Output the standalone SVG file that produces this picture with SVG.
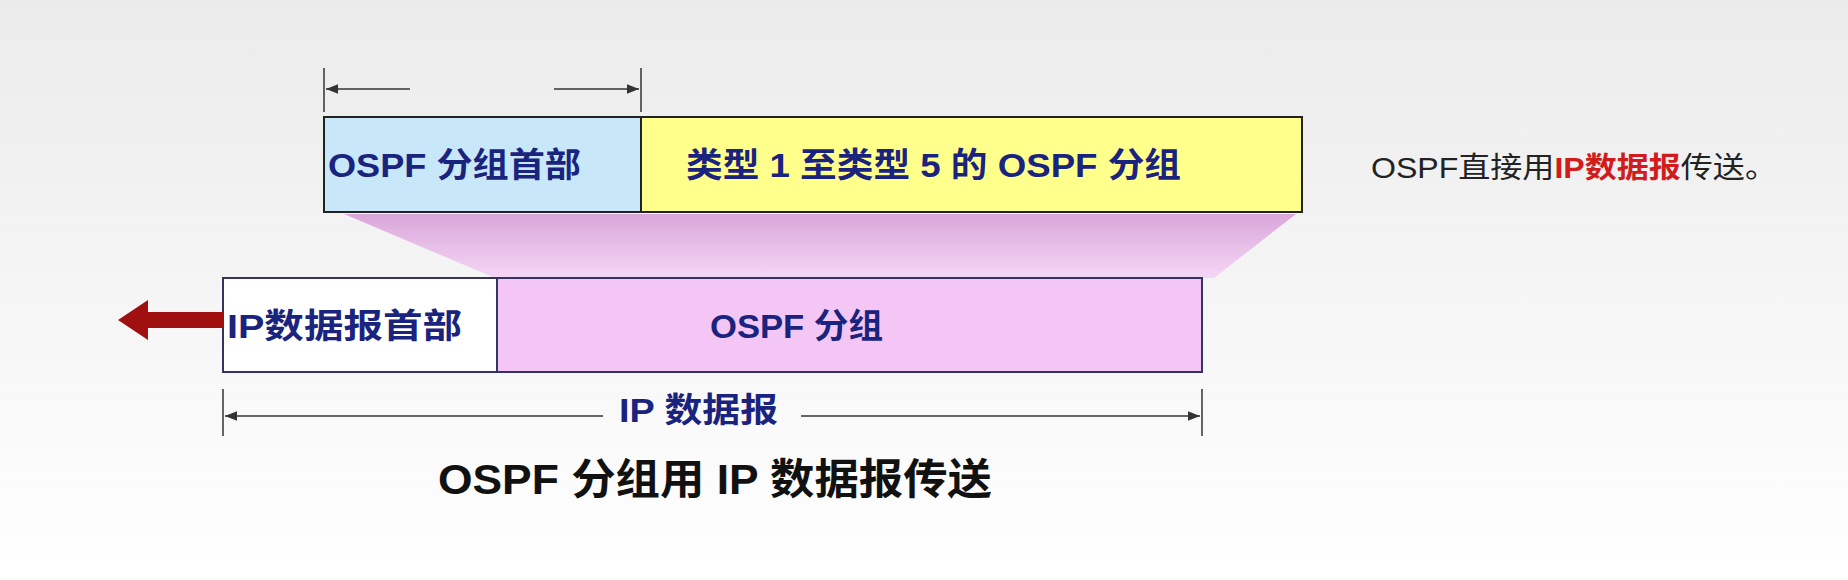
<svg xmlns="http://www.w3.org/2000/svg" width="1848" height="580" viewBox="0 0 1848 580">
<defs>
<style>
.t{font-family:"Liberation Sans","Noto Sans CJK SC",sans-serif;font-weight:bold;fill:#1a237e;font-size:34px}
.dim{stroke:#333;stroke-width:1.5;fill:none}
</style>
<marker id="ah" viewBox="0 0 10 10" refX="10" refY="5" markerWidth="8" markerHeight="8" orient="auto-start-reverse"><path d="M0,1L10,5L0,9z" fill="#333"/></marker>
<linearGradient id="bg" x1="0" y1="0" x2="0" y2="1"><stop offset="0" stop-color="#ebebeb"/><stop offset="1" stop-color="#ffffff"/></linearGradient>
<linearGradient id="tz" x1="0" y1="0" x2="0" y2="1"><stop offset="0" stop-color="#d9a7d9"/><stop offset="1" stop-color="#f5d6f5"/></linearGradient>
</defs>
<rect width="1848" height="580" fill="url(#bg)"/>
<g id="trapezoid"><polygon points="344,214 1296,214 1214,278 495,278" fill="url(#tz)"/></g>
<g id="ospf-header"><rect x="324" y="117" width="317" height="95" fill="#c8e8fa" stroke="#222" stroke-width="2"/><text class="t" x="328" y="177" textLength="253" lengthAdjust="spacingAndGlyphs">OSPF 分组首部</text></g>
<g id="ospf-body"><rect x="641" y="117" width="661" height="95" fill="#ffff8c" stroke="#222" stroke-width="2"/><text class="t" x="686" y="177" textLength="495" lengthAdjust="spacingAndGlyphs">类型 1 至类型 5 的 OSPF 分组</text></g>
<g id="ip-header"><rect x="223" y="278" width="274" height="94" fill="#fff" stroke="#333366" stroke-width="2"/><text class="t" x="227" y="338" textLength="235" lengthAdjust="spacingAndGlyphs">IP数据报首部</text></g>
<g id="ip-body"><rect x="497" y="278" width="705" height="94" fill="#f3c6f5" stroke="#333366" stroke-width="2"/><text class="t" x="710" y="338" textLength="173" lengthAdjust="spacingAndGlyphs">OSPF 分组</text></g>
<g id="connectors">
<line class="dim" x1="324" y1="68" x2="324" y2="112"/><line class="dim" x1="641" y1="68" x2="641" y2="112"/>
<line class="dim" x1="410" y1="89" x2="326" y2="89" marker-end="url(#ah)"/>
<line class="dim" x1="554" y1="89" x2="639" y2="89" marker-end="url(#ah)"/>
<line class="dim" x1="223" y1="389" x2="223" y2="436"/><line class="dim" x1="1202" y1="389" x2="1202" y2="436"/>
<line class="dim" x1="603" y1="416" x2="225" y2="416" marker-end="url(#ah)"/>
<line class="dim" x1="801" y1="416" x2="1200" y2="416" marker-end="url(#ah)"/>
<polygon points="118,320 148,300 148,312 223,312 223,328 148,328 148,340" fill="#a01010"/>
</g>
<text class="t" x="619" y="422" textLength="159" lengthAdjust="spacingAndGlyphs">IP 数据报</text>
<text x="438" y="494" textLength="554" lengthAdjust="spacingAndGlyphs" style="font-family:'Liberation Sans','Noto Sans CJK SC',sans-serif;font-weight:bold;font-size:42px;fill:#111">OSPF 分组用 IP 数据报传送</text>
<text x="1371" y="178" textLength="406" lengthAdjust="spacingAndGlyphs" style="font-family:'Liberation Sans','Noto Sans CJK SC',sans-serif;font-size:29px;fill:#222">OSPF直接用<tspan fill="#d01c1c" font-weight="bold">IP数据报</tspan>传送。</text>
</svg>
